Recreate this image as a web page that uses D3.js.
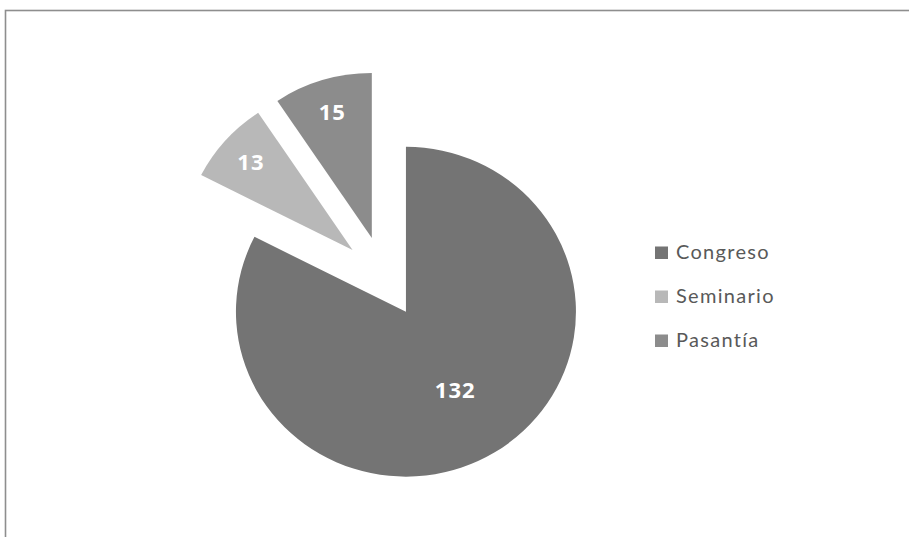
<!DOCTYPE html>
<html>
<head>
<meta charset="utf-8">
<script src="https://cdn.jsdelivr.net/npm/d3@7"></script>
<style>
  html, body { margin: 0; padding: 0; background: #fff; }
  svg { display: block; }
</style>
</head>
<body>
<svg id="chart" width="909" height="537"></svg>
<script>
const categories = ["Congreso", "Seminario", "Pasantía"];
const values = [132, 13, 15];
const colors = ["#747474", "#b8b8b8", "#8c8c8c"];

const W = 909, H = 537;
const svg = d3.select("#chart");

// chart frame (cropped: only top and left borders visible)
svg.append("rect")
  .attr("x", 5.5).attr("y", 10.5)
  .attr("width", 2000).attr("height", 2000)
  .attr("fill", "#fff")
  .attr("stroke", "#8e8e8e")
  .attr("stroke-width", 1.6);

const cx = 384, cy = 277;
const R = 170, yScale = 0.97, explode = 42;

const data = categories.map((c, i) => ({ name: c, value: values[i], color: colors[i] }));
const pie = d3.pie().sort(null).value(d => d.value);
const arcs = pie(data);
const arc = d3.arc().innerRadius(0).outerRadius(R);

const g = svg.append("g")
  .attr("transform", `translate(${cx},${cy}) scale(1,${yScale})`);

function offset(d) {
  const mid = (d.startAngle + d.endAngle) / 2;
  return [explode * Math.sin(mid), -explode * Math.cos(mid)];
}

g.selectAll("path.slice")
  .data(arcs)
  .join("path")
  .attr("class", "slice")
  .attr("d", arc)
  .attr("fill", d => d.data.color)
  .attr("transform", d => { const o = offset(d); return `translate(${o[0]},${o[1]})`; });

function labelPos(d) {
  const o = offset(d);
  const frac = (d.endAngle - d.startAngle) > Math.PI ? 0.555 : 0.8;
  const mid = (d.startAngle + d.endAngle) / 2;
  return [cx + o[0] + frac * R * Math.sin(mid),
          cy + (o[1] - frac * R * Math.cos(mid)) * yScale];
}

// data labels
svg.selectAll("text.lbl")
  .data(arcs)
  .join("text")
  .attr("class", "lbl")
  .attr("x", d => labelPos(d)[0])
  .attr("y", d => labelPos(d)[1])
  .attr("text-anchor", "middle")
  .attr("dy", "0.36em")
  .attr("font-family", "'Open Sans', sans-serif")
  .attr("font-weight", "bold")
  .attr("font-size", 22)
  .attr("letter-spacing", 1)
  .attr("fill", "#ffffff")
  .text(d => d.data.value);

// legend
const legend = svg.append("g").attr("transform", "translate(655,259)");
const item = legend.selectAll("g.item")
  .data(data)
  .join("g")
  .attr("class", "item")
  .attr("transform", (d, i) => `translate(0,${i * 44})`);
item.append("rect")
  .attr("x", 0).attr("y", -12.5)
  .attr("width", 13).attr("height", 12.5)
  .attr("fill", d => d.color);
item.append("text")
  .attr("x", 21).attr("y", 0)
  .attr("font-family", "Lato, sans-serif")
  .attr("font-size", 20)
  .attr("letter-spacing", 1.3)
  .attr("fill", "#595959")
  .text(d => d.name);
</script>
</body>
</html>
